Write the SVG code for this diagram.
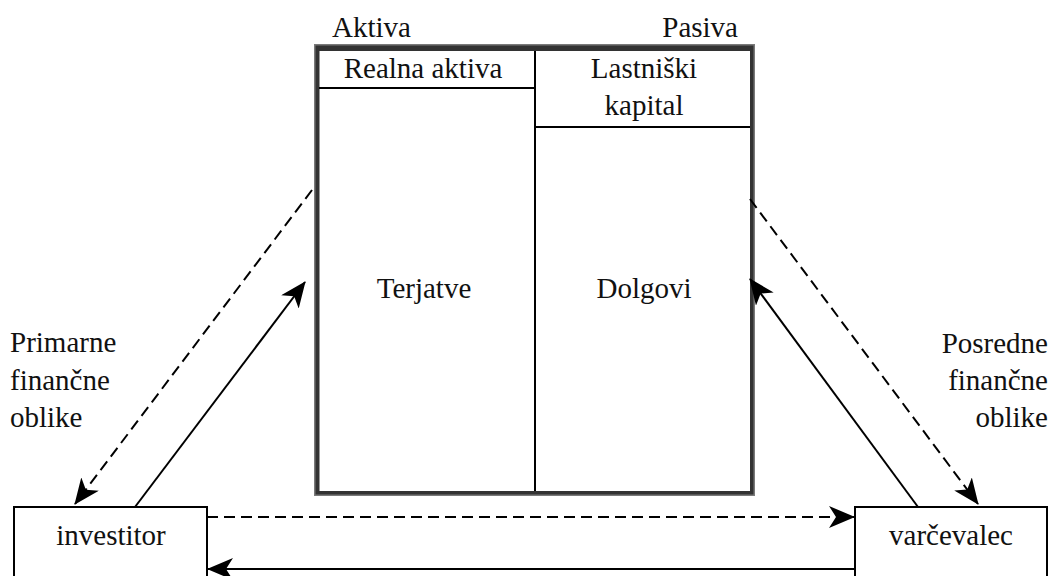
<svg xmlns="http://www.w3.org/2000/svg" width="1054" height="576" viewBox="0 0 1054 576">
<style>
.t{font-family:'Liberation Serif','DejaVu Serif',serif;font-size:29px;fill:#111}
.c{text-anchor:middle}
.r{text-anchor:end}
.ln{stroke:#000;stroke-width:2;fill:none}
.d{stroke-dasharray:11 6}
.box{fill:#fff;stroke:#000;stroke-width:2}
</style>
<defs>
<marker id="ah" markerUnits="strokeWidth" viewBox="0 0 26 22" refX="25" refY="11" markerWidth="13" markerHeight="11" orient="auto">
<path d="M0,0 L26,11 L0,22 L7,11 Z" fill="#000"/>
</marker>
</defs>
<rect width="1054" height="576" fill="#fff"/>
<g id="balance">
<rect x="314" y="44" width="441" height="452" fill="#7a7a7a"/>
<rect x="315.5" y="45.5" width="438" height="449" fill="#333"/>
<rect x="319.5" y="51" width="430.5" height="440" fill="#fff"/>
<line x1="535" y1="51" x2="535" y2="491" stroke="#000" stroke-width="2"/>
<line x1="319" y1="88" x2="535" y2="88" stroke="#000" stroke-width="2"/>
<line x1="535" y1="127" x2="750" y2="127" stroke="#000" stroke-width="2"/>
<text class="t" x="332" y="37">Aktiva</text>
<text class="t r" x="738" y="37">Pasiva</text>
<text class="t c" x="423" y="78">Realna aktiva</text>
<text class="t c" x="644" y="78">Lastniški</text>
<text class="t c" x="644" y="115">kapital</text>
<text class="t c" x="424" y="298">Terjatve</text>
<text class="t c" x="644" y="298">Dolgovi</text>
</g>
<g id="investitor">
<rect class="box" x="14" y="507" width="193" height="90"/>
<text class="t c" x="111" y="545">investitor</text>
</g>
<g id="varcevalec">
<rect class="box" x="855" y="507" width="192" height="90"/>
<text class="t c" x="951" y="545">varčevalec</text>
</g>
<g id="labels">
<text class="t" x="10" y="352">Primarne</text>
<text class="t" x="10" y="390">finančne</text>
<text class="t" x="10" y="427">oblike</text>
<text class="t r" x="1048" y="353">Posredne</text>
<text class="t r" x="1048" y="390">finančne</text>
<text class="t r" x="1048" y="427">oblike</text>
</g>
<g id="connectors">
<line class="ln d" x1="312" y1="190" x2="75" y2="504" marker-end="url(#ah)"/>
<line class="ln" x1="135" y1="507" x2="305" y2="282" marker-end="url(#ah)"/>
<line class="ln d" x1="750" y1="199" x2="978" y2="504" marker-end="url(#ah)"/>
<line class="ln" x1="918" y1="507" x2="750" y2="279" marker-end="url(#ah)"/>
<line class="ln d" x1="207" y1="517" x2="854" y2="517" marker-end="url(#ah)"/>
<line class="ln" x1="855" y1="569" x2="208" y2="569" marker-end="url(#ah)"/>
</g>
</svg>
